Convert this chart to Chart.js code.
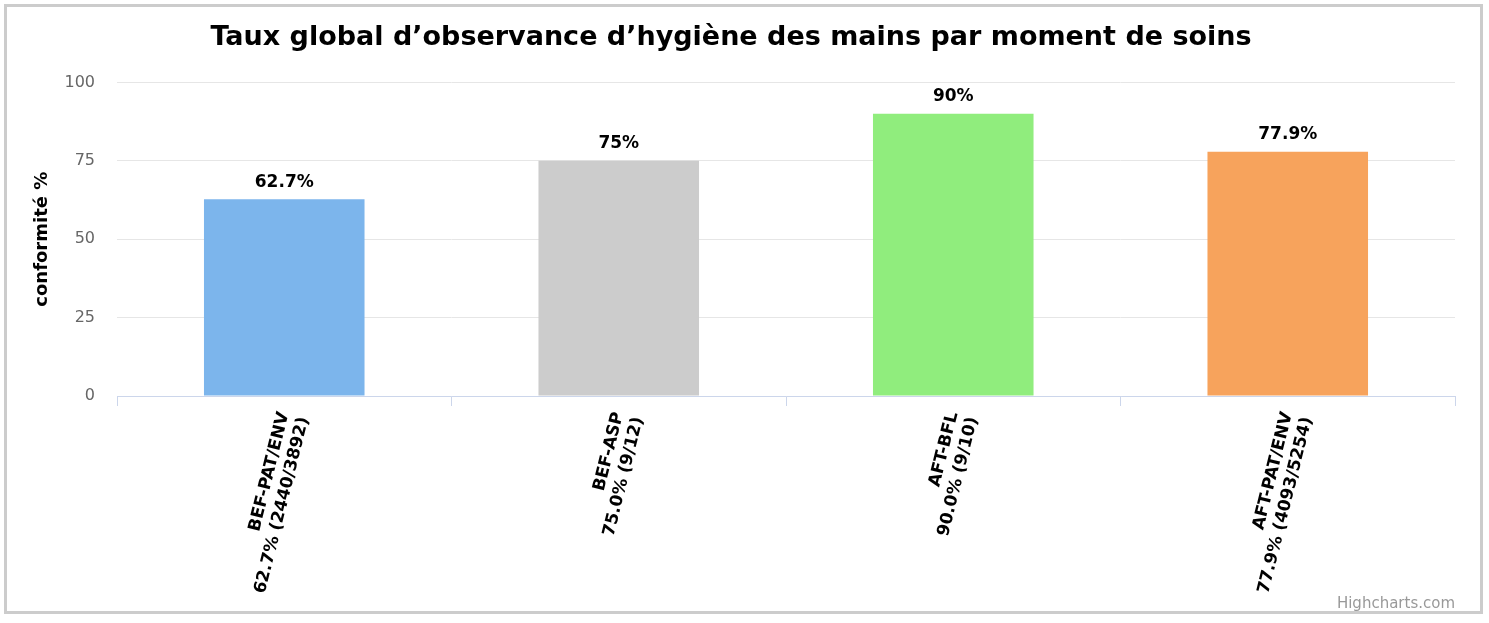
<!DOCTYPE html>
<html>
<head>
<meta charset="utf-8">
<script src="https://cdn.jsdelivr.net/npm/chart.js@4/dist/chart.umd.min.js"></script>
<style>
  html, body { margin: 0; padding: 0; background: #fff; }
  #frame {
    position: absolute; left: 4px; top: 4px;
    width: 1473px; height: 604px;
    border: 3px solid #cccccc;
  }
</style>
</head>
<body>
<div id="frame"><canvas id="chart" width="1473" height="604"></canvas></div>
<script>
// Data
const categories = ['BEF-PAT/ENV', 'BEF-ASP', 'AFT-BFL', 'AFT-PAT/ENV'];
const details = ['62.7% (2440/3892)', '75.0% (9/12)', '90.0% (9/10)', '77.9% (4093/5254)'];
const rates = [62.7, 75, 90, 77.9];
const valueLabels = ['62.7%', '75%', '90%', '77.9%'];
const barColors = ['#7cb5ec', '#cccccc', '#90ed7d', '#f7a35c'];
const yTicks = [0, 25, 50, 75, 100];

const FONT = '"DejaVu Sans", Verdana, sans-serif';

// value labels above each bar
const barLabels = {
  id: 'barLabels',
  afterDatasetsDraw(chart) {
    const ctx = chart.ctx;
    const meta = chart.getDatasetMeta(0);
    ctx.save();
    ctx.font = 'bold 17px ' + FONT;
    ctx.textAlign = 'center';
    ctx.textBaseline = 'middle';
    ctx.lineJoin = 'round';
    meta.data.forEach((bar, i) => {
      const y = bar.y - 17;
      ctx.lineWidth = 3;
      ctx.strokeStyle = '#ffffff';
      ctx.strokeText(valueLabels[i], bar.x, y);
      ctx.fillStyle = '#000000';
      ctx.fillText(valueLabels[i], bar.x, y);
    });
    ctx.restore();
  }
};

// credits text bottom right
const credits = {
  id: 'credits',
  afterDraw(chart) {
    const ctx = chart.ctx;
    ctx.save();
    ctx.font = '15px ' + FONT;
    ctx.fillStyle = '#999999';
    ctx.textAlign = 'right';
    ctx.textBaseline = 'middle';
    ctx.fillText('Highcharts.com', chart.chartArea.right, chart.height - 7);
    ctx.restore();
  }
};

new Chart(document.getElementById('chart'), {
  type: 'bar',
  data: {
    labels: categories.map((c, i) => [c, details[i]]),
    datasets: [{
      data: rates,
      backgroundColor: barColors,
      borderWidth: 0,
      categoryPercentage: 1,
      barPercentage: 0.48
    }]
  },
  options: {
    responsive: false,
    animation: false,
    layout: { padding: { left: 0, right: 25, top: 0, bottom: 0 } },
    plugins: {
      legend: { display: false },
      tooltip: { enabled: false },
      title: {
        display: true,
        text: 'Taux global d’observance d’hygiène des mains par moment de soins',
        color: '#000',
        font: { family: FONT, size: 27, weight: 'bold' },
        padding: { top: 15, bottom: 28 }
      }
    },
    scales: {
      x: {
        offset: true,
        grid: {
          offset: true,
          drawOnChartArea: false,
          drawTicks: true,
          tickLength: 10,
          color: '#ccd6eb'
        },
        border: { color: '#ccd6eb' },
        ticks: {
          minRotation: 76,
          maxRotation: 76,
          padding: 4,
          color: '#000',
          font: { family: FONT, size: 17, weight: 'bold' }
        },
        afterFit(scale) { scale.height = 215; }
      },
      y: {
        min: 0,
        max: 100,
        afterBuildTicks(scale) { scale.ticks = yTicks.map(v => ({ value: v })); },
        grid: { color: '#e6e6e6', drawTicks: false },
        border: { display: false },
        ticks: {
          padding: 22,
          color: '#666666',
          font: { family: FONT, size: 16 }
        },
        title: {
          display: true,
          text: 'conformité %',
          color: '#000',
          font: { family: FONT, size: 18, weight: 'bold' },
          padding: { top: 25, bottom: 0 }
        },
        afterFit(scale) { scale.width = 110; }
      }
    }
  },
  plugins: [barLabels, credits]
});
</script>
</body>
</html>
